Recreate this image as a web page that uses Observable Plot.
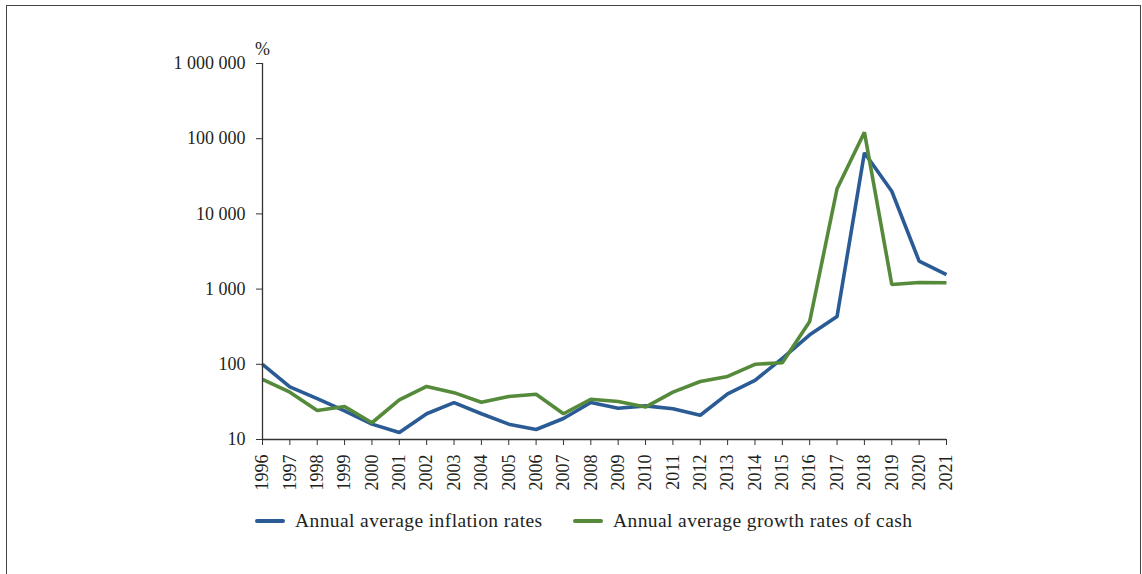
<!DOCTYPE html>
<html>
<head>
<meta charset="utf-8">
<script src="https://cdn.jsdelivr.net/npm/d3@7"></script>
<script src="https://cdn.jsdelivr.net/npm/@observablehq/plot@0.6"></script>
<style>
  html, body { margin: 0; padding: 0; background: #fff; }
  #page { position: relative; width: 1142px; height: 574px; overflow: hidden; background: #fff; }
  #frame { position: absolute; left: 6px; top: 5px; width: 1135px; height: 620px; border: 1.5px solid #444; box-sizing: border-box; }
  #chart { position: absolute; left: 0; top: 0; }
  .legend-item { position: absolute; top: 509px; height: 24px; display: flex; align-items: center;
    font-family: "Liberation Serif", "Times New Roman", serif; font-size: 19.5px; letter-spacing: 0.4px; color: #231f20; white-space: nowrap; }
  .swatch { display: inline-block; width: 30px; height: 4px; border-radius: 2px; margin-right: 10px; }
</style>
</head>
<body>
<div id="page">
  <div id="frame"></div>
  <div id="chart"></div>
  <div id="legend"></div>
</div>
<script>
// Years on the horizontal axis
const years = [1996, 1997, 1998, 1999, 2000, 2001, 2002, 2003, 2004, 2005, 2006, 2007, 2008,
               2009, 2010, 2011, 2012, 2013, 2014, 2015, 2016, 2017, 2018, 2019, 2020, 2021];

// Annual average inflation rates, %
const inflation = [100, 50, 35, 24, 16, 12.4, 22, 31, 22, 16, 13.6, 19, 31,
                   26, 28, 25.6, 21, 40.5, 61, 120, 247, 433, 65000, 20000, 2350, 1560];

// Annual average growth rates of cash, %
const cash = [63, 42.5, 24.3, 27.5, 16.7, 33.7, 50.7, 42, 31.3, 37.3, 40, 22, 34.3,
              32, 27, 42.6, 59, 69, 100, 105, 371, 21600, 122000, 1150, 1225, 1213];

// Series names and y-axis tick values
const seriesNames = ["Annual average inflation rates", "Annual average growth rates of cash"];
const seriesColors = ["#2b5b94", "#558a3a"];
const yTicks = [10, 100, 1000, 10000, 100000, 1000000];

// Long-format table for the line mark
const rows = [
  ...years.map((year, i) => ({year, value: inflation[i], series: seriesNames[0]})),
  ...years.map((year, i) => ({year, value: cash[i], series: seriesNames[1]}))
];

const spaced = d => d3.format(",")(d).replace(/,/g, " ");
const font = "Liberation Serif, Times New Roman, serif";

const chart = Plot.plot({
  width: 1142,
  height: 500,
  marginLeft: 262,
  marginRight: 196,
  marginTop: 63,
  marginBottom: 61,
  style: {fontFamily: font, fontSize: "18px", color: "#231f20", background: "transparent", overflow: "visible"},
  x: {type: "linear", domain: [1996, 2021]},
  y: {type: "log", domain: [10, 1000000]},
  color: {domain: seriesNames, range: seriesColors},
  marks: [
    Plot.line(rows, {x: "year", y: "value", z: "series", stroke: "series",
      strokeWidth: 3.6, strokeLinejoin: "miter", strokeLinecap: "butt"}),
    Plot.ruleX([1996], {stroke: "#333", strokeWidth: 1.3}),
    Plot.ruleY([10], {stroke: "#333", strokeWidth: 1.3}),
    Plot.axisY({ticks: yTicks, tickFormat: spaced, tickSize: 6, tickPadding: 11,
      label: null, fontSize: 18, stroke: "#333"}),
    Plot.axisX({ticks: years, tickFormat: d => String(d), tickRotate: -90, tickSize: 6,
      tickPadding: 9, label: null, fontSize: 18, stroke: "#333"}),
    Plot.text(["%"], {frameAnchor: "top-left", dy: -21, textAnchor: "middle", fontSize: 18, fill: "#231f20"})
  ]
});
document.getElementById("chart").appendChild(chart);

// Legend below the plot area
const legend = document.getElementById("legend");
const legendLeft = [255, 573];
seriesNames.forEach((name, i) => {
  const item = document.createElement("div");
  item.className = "legend-item";
  item.style.left = legendLeft[i] + "px";
  const sw = document.createElement("span");
  sw.className = "swatch";
  sw.style.background = seriesColors[i];
  item.appendChild(sw);
  item.appendChild(document.createTextNode(name));
  legend.appendChild(item);
});
</script>
</body>
</html>
